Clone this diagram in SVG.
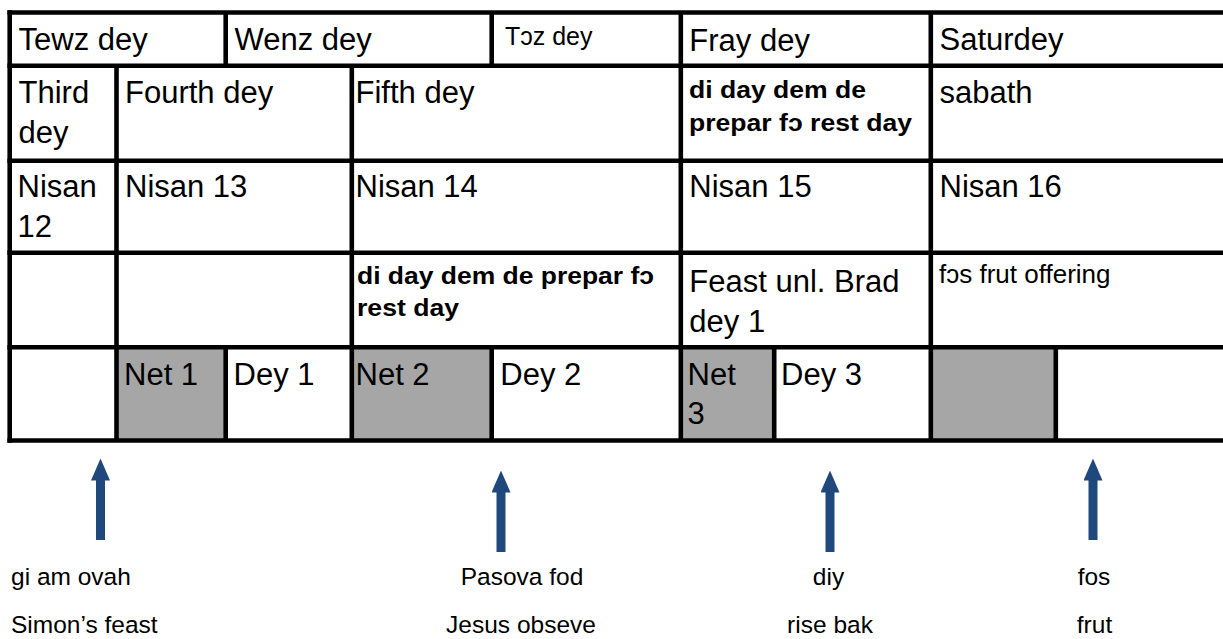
<svg xmlns="http://www.w3.org/2000/svg" width="1223" height="639" viewBox="0 0 1223 639">
  <style>
    .t { font-family: "Liberation Sans", Arial, "DejaVu Sans", sans-serif; font-size: 31px; fill: #000; }
    .b { font-family: "Liberation Sans", Arial, "DejaVu Sans", sans-serif; font-size: 23.5px; font-weight: bold; fill: #000; }
    .s { font-family: "Liberation Sans", Arial, "DejaVu Sans", sans-serif; font-size: 26px; fill: #000; }
    .lbl { font-family: "Liberation Sans", Arial, "DejaVu Sans", sans-serif; font-size: 24.5px; fill: #000; }
    .mid { text-anchor: middle; }
    .grid line { stroke: #000; stroke-width: 4.6; }
    .shade { fill: #a6a6a6; }
    .arrow { stroke: #1f497d; stroke-width: 9; marker-end: url(#head); }
  </style>
  <defs>
    <marker id="head" markerUnits="userSpaceOnUse" viewBox="0 0 22 19" refX="1" refY="9.5" markerWidth="22" markerHeight="19" orient="auto">
      <path d="M0,0 L22,9.5 L0,19 Z" fill="#1f497d"/>
    </marker>
  </defs>

  <rect width="1223" height="639" fill="#fff"/>

  <!-- shaded night cells -->
  <g id="shading">
    <rect class="shade" x="116.5" y="347.2" width="109.2" height="93.3"/>
    <rect class="shade" x="351.8" y="347.2" width="139.9" height="93.3"/>
    <rect class="shade" x="680.8" y="347.2" width="93.4" height="93.3"/>
    <rect class="shade" x="930.8" y="347.2" width="125" height="93.3"/>
  </g>

  <!-- table rules -->
  <g class="grid" id="grid">
    <line x1="7.4" y1="12.5" x2="1223" y2="12.5"/>
    <line x1="7.4" y1="65.8" x2="1223" y2="65.8"/>
    <line x1="7.4" y1="160.8" x2="1223" y2="160.8"/>
    <line x1="7.4" y1="252.8" x2="1223" y2="252.8"/>
    <line x1="7.4" y1="347.2" x2="1223" y2="347.2"/>
    <line x1="7.4" y1="440.5" x2="1223" y2="440.5"/>
    <line x1="9.7" y1="10.2" x2="9.7" y2="442.8"/>
    <!-- row 1 -->
    <line x1="225.7" y1="12.5" x2="225.7" y2="65.8"/>
    <line x1="491.7" y1="12.5" x2="491.7" y2="65.8"/>
    <!-- rows 2-5 -->
    <line x1="116.5" y1="65.8" x2="116.5" y2="440.5"/>
    <line x1="351.8" y1="65.8" x2="351.8" y2="440.5"/>
    <line x1="680.8" y1="12.5" x2="680.8" y2="440.5"/>
    <line x1="930.8" y1="12.5" x2="930.8" y2="440.5"/>
    <!-- row 5 -->
    <line x1="225.7" y1="347.2" x2="225.7" y2="440.5"/>
    <line x1="491.7" y1="347.2" x2="491.7" y2="440.5"/>
    <line x1="774.2" y1="347.2" x2="774.2" y2="440.5"/>
    <line x1="1055.8" y1="347.2" x2="1055.8" y2="440.5"/>
  </g>

  <!-- row 1: weekday names -->
  <g id="tewz-dey"><text class="t" x="18.5" y="50">Tewz dey</text></g>
  <g id="wenz-dey"><text class="t" x="234.5" y="50">Wenz dey</text></g>
  <g id="toz-dey"><text class="t" x="505" y="45" style="font-size:25px">Tɔz dey</text></g>
  <g id="fray-dey"><text class="t" x="689.3" y="50.5">Fray dey</text></g>
  <g id="saturdey"><text class="t" x="939.5" y="50">Saturdey</text></g>

  <!-- row 2: day numbers -->
  <g id="third-dey"><text class="t" x="18.5" y="103">Third</text><text class="t" x="18.5" y="143">dey</text></g>
  <g id="fourth-dey"><text class="t" x="125" y="102.5">Fourth dey</text></g>
  <g id="fifth-dey"><text class="t" x="355.5" y="102.5">Fifth dey</text></g>
  <g id="prep-day-1">
    <text class="b" x="689" y="98.3" textLength="177" lengthAdjust="spacingAndGlyphs">di day dem de</text>
    <text class="b" x="689" y="130.5" textLength="223" lengthAdjust="spacingAndGlyphs">prepar fɔ rest day</text>
  </g>
  <g id="sabath"><text class="t" x="939.5" y="102.5">sabath</text></g>

  <!-- row 3: dates -->
  <g id="nisan-12"><text class="t" x="17.6" y="197">Nisan</text><text class="t" x="17.6" y="237">12</text></g>
  <g id="nisan-13"><text class="t" x="125" y="197">Nisan 13</text></g>
  <g id="nisan-14"><text class="t" x="355.5" y="197">Nisan 14</text></g>
  <g id="nisan-15"><text class="t" x="689.3" y="197">Nisan 15</text></g>
  <g id="nisan-16"><text class="t" x="939.5" y="197">Nisan 16</text></g>

  <!-- row 4: observances -->
  <g id="prep-day-2">
    <text class="b" x="357" y="284" textLength="297" lengthAdjust="spacingAndGlyphs">di day dem de prepar fɔ</text>
    <text class="b" x="357" y="316" textLength="102" lengthAdjust="spacingAndGlyphs">rest day</text>
  </g>
  <g id="feast"><text class="t" x="689.3" y="292">Feast unl. Brad</text><text class="t" x="689.3" y="332">dey 1</text></g>
  <g id="first-fruit"><text class="s" x="939" y="283">fɔs frut offering</text></g>

  <!-- row 5: nights and days -->
  <g id="net-1"><text class="t" x="124" y="385">Net 1</text></g>
  <g id="dey-1"><text class="t" x="233.5" y="385">Dey 1</text></g>
  <g id="net-2"><text class="t" x="355.5" y="385">Net 2</text></g>
  <g id="dey-2"><text class="t" x="500.3" y="385">Dey 2</text></g>
  <g id="net-3"><text class="t" x="687.5" y="385">Net</text><text class="t" x="687.5" y="424">3</text></g>
  <g id="dey-3"><text class="t" x="781" y="385">Dey 3</text></g>

  <!-- pointers -->
  <g id="connectors">
    <line class="arrow" x1="100.5" y1="540" x2="100.5" y2="479.5"/>
    <line class="arrow" x1="501" y1="552" x2="501" y2="491.5"/>
    <line class="arrow" x1="830" y1="552" x2="830" y2="491.5"/>
    <line class="arrow" x1="1093" y1="540" x2="1093" y2="479.5"/>
  </g>

  <!-- captions -->
  <g id="simon"><text class="lbl" x="11" y="585">gi am ovah</text><text class="lbl" x="11" y="633">Simon’s feast</text></g>
  <g id="pasova"><text class="lbl mid" x="522" y="585">Pasova fod</text><text class="lbl mid" x="521" y="633">Jesus obseve</text></g>
  <g id="diy"><text class="lbl mid" x="828.5" y="585">diy</text><text class="lbl mid" x="830" y="633">rise bak</text></g>
  <g id="fos"><text class="lbl mid" x="1094" y="585">fos</text><text class="lbl mid" x="1094.5" y="633">frut</text></g>
</svg>
